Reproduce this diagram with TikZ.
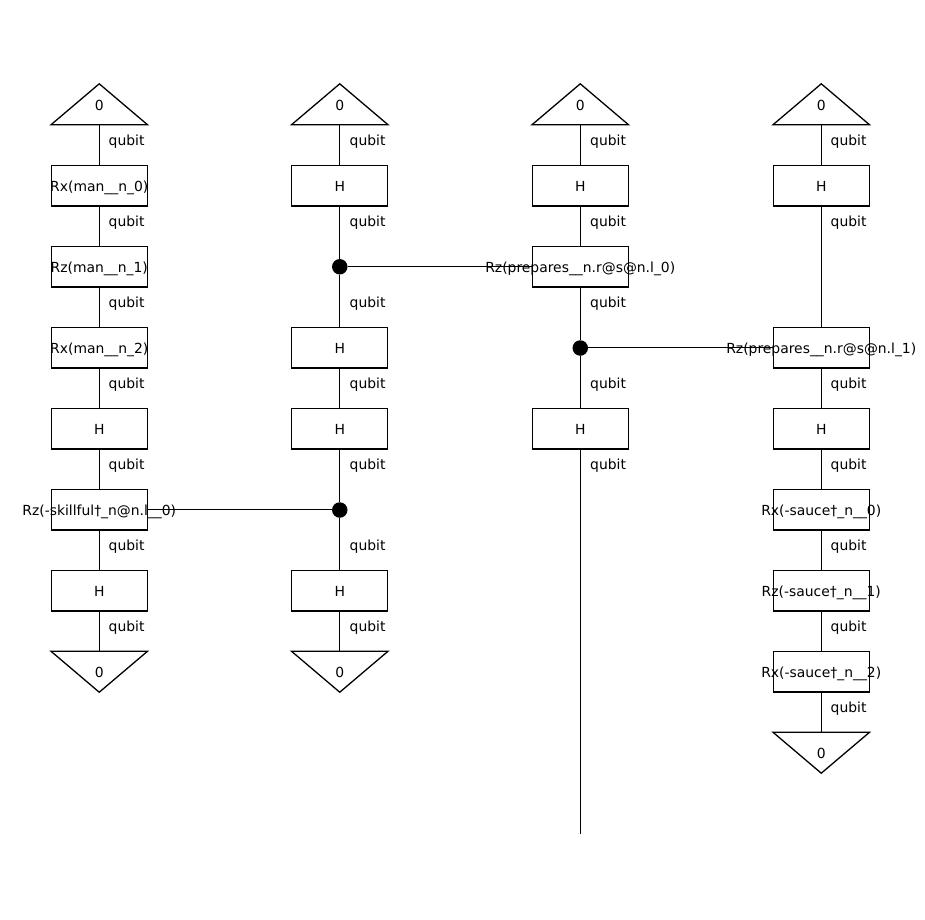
\documentclass[tikz,border=0pt]{standalone}
\usepackage{fontspec}
\setmainfont{DejaVu Sans}
\tikzset{
  gatebase/.style={minimum width=96pt,minimum height=40.5pt,inner sep=0pt,
    text height=12pt,text depth=0pt,font=\fontsize{13.9}{16}\selectfont},
  gatebox/.style={gatebase,draw,line width=1.3pt},
  trishape/.style={gatebase},
  ctrl/.style={circle,fill=black,inner sep=0pt,minimum size=15.5pt},
  wire/.style={line width=1.3pt},
  tri/.style={line width=1.3pt,line join=miter},
  typelabel/.style={anchor=base west,inner sep=0pt,font=\fontsize{13.9}{16}\selectfont}
}
\newcommand{\ov}[1]{\makebox[0pt][c]{#1}}
\begin{document}
\begin{tikzpicture}[x=1pt,y=-1pt]
\useasboundingbox (0,0) rectangle (925,919);

% first column
\node[trishape] (a0) at (99.25,104.25) {0};
\node[gatebox] (a1) at (99.25,185.75) {\ov{Rx(man\_\_n\_0)}};
\node[gatebox] (a2) at (99.25,266.75) {\ov{Rz(man\_\_n\_1)}};
\node[gatebox] (a3) at (99.25,347.75) {\ov{Rx(man\_\_n\_2)}};
\node[gatebox] (a4) at (99.25,428.75) {\ov{H}};
\node[gatebox] (a5) at (99.25,509.75) {\ov{Rz(-skillful†\_n@n.l\_\_0)}};
\node[gatebox] (a6) at (99.25,590.75) {\ov{H}};
\node[trishape] (a7) at (99.25,671.75) {0};

% second column
\node[trishape] (b0) at (339.75,104.25) {0};
\node[gatebox] (b1) at (339.75,185.75) {\ov{H}};
\node[ctrl] (bc1) at (339.75,266.75) {};
\node[gatebox] (b3) at (339.75,347.75) {\ov{H}};
\node[gatebox] (b4) at (339.75,428.75) {\ov{H}};
\node[ctrl] (bc2) at (339.75,510) {};
\node[gatebox] (b6) at (339.75,590.75) {\ov{H}};
\node[trishape] (b7) at (339.75,671.75) {0};

% third column
\node[trishape] (c0) at (580.25,104.25) {0};
\node[gatebox] (c1) at (580.25,185.75) {\ov{H}};
\node[gatebox] (c2) at (580.25,266.75) {\ov{Rz(prepares\_\_n.r@s@n.l\_0)}};
\node[ctrl] (cc1) at (580.25,348) {};
\node[gatebox] (c4) at (580.25,428.75) {\ov{H}};
\coordinate (cend) at (580.25,833.5);

% fourth column
\node[trishape] (d0) at (821.25,104.25) {0};
\node[gatebox] (d1) at (821.25,185.75) {\ov{H}};
\node[gatebox] (d3) at (821.25,347.75) {\ov{Rz(prepares\_\_n.r@s@n.l\_1)}};
\node[gatebox] (d4) at (821.25,428.75) {\ov{H}};
\node[gatebox] (d5) at (821.25,509.75) {\ov{Rx(-sauce†\_n\_\_0)}};
\node[gatebox] (d6) at (821.25,590.75) {\ov{Rz(-sauce†\_n\_\_1)}};
\node[gatebox] (d7) at (821.25,671.75) {\ov{Rx(-sauce†\_n\_\_2)}};
\node[trishape] (d8) at (821.25,752.75) {0};

% state and effect triangles
\foreach \n in {a0,b0,c0,d0}
  \draw[tri] (\n.north) -- (\n.south west) -- (\n.south east) -- cycle;
\foreach \n in {a7,b7,d8}
  \draw[tri] (\n.south) -- (\n.north west) -- (\n.north east) -- cycle;

% vertical wires
\draw[wire] (a0.south) -- (a1.north);
\draw[wire] (a1.south) -- (a2.north);
\draw[wire] (a2.south) -- (a3.north);
\draw[wire] (a3.south) -- (a4.north);
\draw[wire] (a4.south) -- (a5.north);
\draw[wire] (a5.south) -- (a6.north);
\draw[wire] (a6.south) -- (a7.north);

\draw[wire] (b0.south) -- (b1.north);
\draw[wire] (b1.south) -- (bc1);
\draw[wire] (bc1) -- (b3.north);
\draw[wire] (b3.south) -- (b4.north);
\draw[wire] (b4.south) -- (bc2);
\draw[wire] (bc2) -- (b6.north);
\draw[wire] (b6.south) -- (b7.north);

\draw[wire] (c0.south) -- (c1.north);
\draw[wire] (c1.south) -- (c2.north);
\draw[wire] (c2.south) -- (cc1);
\draw[wire] (cc1) -- (c4.north);
\draw[wire] (c4.south) -- (cend);

\draw[wire] (d0.south) -- (d1.north);
\draw[wire] (d1.south) -- (d3.north);
\draw[wire] (d3.south) -- (d4.north);
\draw[wire] (d4.south) -- (d5.north);
\draw[wire] (d5.south) -- (d6.north);
\draw[wire] (d6.south) -- (d7.north);
\draw[wire] (d7.south) -- (d8.north);

% controlled-gate links
\draw[wire] (a5.east) -- (bc2.west |- a5.east);
\draw[wire] (bc1) -- (c2.west);
\draw[wire] (cc1.east |- d3.west) -- (d3.west);

% wire type labels
\foreach \x/\ys in {108.5/{145,226,307,388,469,550,631},
                    349.5/{145,226,307,388,469,550,631},
                    590/{145,226,307,388,469},
                    830.5/{145,226,388,469,550,631,712}}
  \foreach \y in \ys
    \node[typelabel] at (\x,\y) {qubit};
\end{tikzpicture}
\end{document}
